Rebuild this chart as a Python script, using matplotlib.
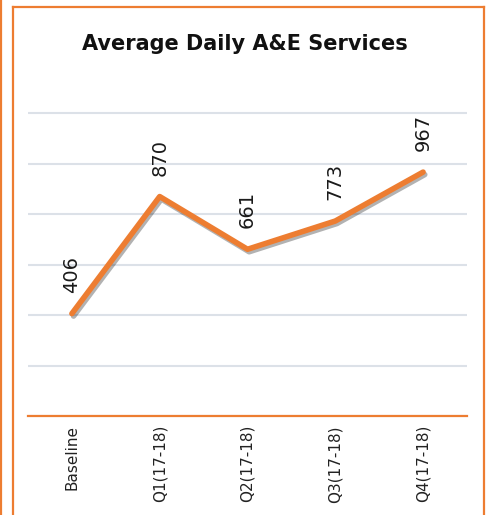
import matplotlib
matplotlib.use("Agg")
import matplotlib.pyplot as plt
import matplotlib.patheffects as pe
from matplotlib.lines import Line2D

categories = ["Baseline", "Q1(17-18)", "Q2(17-18)", "Q3(17-18)", "Q4(17-18)"]
values = [406, 870, 661, 773, 967]
title = "Average Daily A&E Services"

ORANGE = "#ED7D31"
GRID = "#DCE1E8"
W, H = 490, 515

fig = plt.figure(figsize=(W / 100, H / 100), dpi=100)
fig.patch.set_facecolor("white")

ax = fig.add_axes([28 / W, (H - 416) / H, (467 - 28) / W, (416 - 111.3) / H])
ax.set_xlim(-0.5, len(categories) - 0.5)
ax.set_ylim(0, 1208)
ax.set_yticks(range(0, 1201, 200))
ax.yaxis.grid(True, color=GRID, linewidth=1.5)
ax.set_axisbelow(True)
for s in ["left", "right", "top"]:
    ax.spines[s].set_visible(False)
ax.spines["bottom"].set_color(ORANGE)
ax.spines["bottom"].set_linewidth(1.6)
ax.tick_params(axis="y", left=False, labelleft=False)
ax.tick_params(axis="x", bottom=False, pad=3)
x = list(range(len(categories)))
ax.set_xticks(x)
ax.set_xticklabels(categories, rotation=90, fontsize=11, color="#222222", va="top")

ax.plot(x, values, color=ORANGE, linewidth=4.0, solid_capstyle="round",
        solid_joinstyle="round", clip_on=False,
        path_effects=[pe.SimpleLineShadow(offset=(1.2, -1.8), alpha=0.3, shadow_color="black"),
                      pe.Normal()])

for xi, v in zip(x, values):
    ax.annotate(f"{v}", (xi, v), xytext=(0, 21), textcoords="offset pixels",
                rotation=90, ha="center", va="bottom", fontsize=14, color="#1a1a1a",
                annotation_clip=False)

fig.text(0.5, 1 - 44 / H, title, ha="center", va="center", fontsize=15,
         fontweight="bold", color="#111111")

# orange frame borders
def vline(xp, y0, y1):
    fig.add_artist(Line2D([xp / W, xp / W], [1 - y0 / H, 1 - y1 / H], color=ORANGE,
                          linewidth=1.6, transform=fig.transFigure))

vline(1, 0, H)
vline(12.8, 6.8, H)
vline(483.5, 6.8, H)
fig.add_artist(Line2D([12.8 / W, 483.5 / W], [1 - 6.8 / H, 1 - 6.8 / H], color=ORANGE,
                      linewidth=1.6, transform=fig.transFigure))

fig.savefig("out.png", dpi=100, facecolor="white")
